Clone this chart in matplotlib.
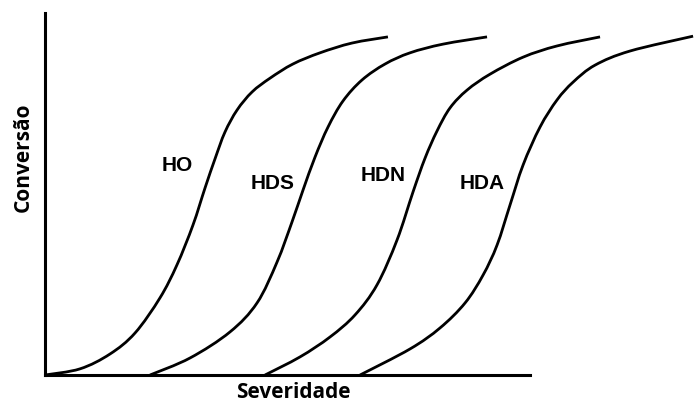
import matplotlib
matplotlib.use("Agg")
import matplotlib.pyplot as plt
from matplotlib.path import Path
from matplotlib.patches import PathPatch

# curves (severity in arbitrary units, conversion 0..1)
ho_x = [0.00, 0.722, 1.340, 1.856, 2.37, 2.72, 3.05, 3.30, 3.51, 3.71, 3.96, 4.27, 4.64, 5.11, 5.67, 6.33, 7.07]
ho_y = [0.000, 0.017, 0.058, 0.116, 0.213, 0.304, 0.414, 0.517, 0.599, 0.671, 0.732, 0.782, 0.820, 0.859, 0.890, 0.917, 0.934]

hds_x = [2.165, 2.990, 3.814, 4.371, 4.784, 5.093, 5.320, 5.567, 5.835, 6.144, 6.536, 7.010, 7.526, 8.206, 9.113]
hds_y = [0.000, 0.047, 0.119, 0.199, 0.312, 0.423, 0.511, 0.602, 0.685, 0.757, 0.815, 0.859, 0.890, 0.914, 0.934]

hdn_x = [4.536, 5.258, 5.876, 6.392, 6.845, 7.258, 7.588, 7.835, 8.082, 8.351, 8.701, 9.175, 9.856, 10.557, 11.443]
hdn_y = [0.000, 0.050, 0.105, 0.166, 0.249, 0.373, 0.506, 0.599, 0.674, 0.738, 0.787, 0.831, 0.878, 0.909, 0.934]

hda_x = [6.495, 7.526, 8.144, 8.660, 9.031, 9.320, 9.588, 9.856, 10.206, 10.557, 10.887, 11.340, 12.062, 13.361]
hda_y = [0.000, 0.072, 0.130, 0.199, 0.276, 0.359, 0.470, 0.580, 0.685, 0.760, 0.809, 0.856, 0.895, 0.936]

labels = ["HO", "HDS", "HDN", "HDA"]
label_x = [2.72, 4.70, 6.97, 9.01]
label_y = [0.58, 0.53, 0.55, 0.53]


def smooth_path(xs, ys):
    # Catmull-Rom through the read points, drawn as cubic bezier segments
    pts = list(zip(xs, ys))
    verts = [pts[0]]
    codes = [Path.MOVETO]
    n = len(pts)
    for i in range(n - 1):
        p0 = pts[i - 1] if i > 0 else pts[i]
        p1 = pts[i]
        p2 = pts[i + 1]
        p3 = pts[i + 2] if i + 2 < n else pts[i + 1]
        c1 = (p1[0] + (p2[0] - p0[0]) / 6, p1[1] + (p2[1] - p0[1]) / 6)
        c2 = (p2[0] - (p3[0] - p1[0]) / 6, p2[1] - (p3[1] - p1[1]) / 6)
        verts += [c1, c2, p2]
        codes += [Path.CURVE4] * 3
    return Path(verts, codes)


fig = plt.figure(figsize=(6.94, 4.03), dpi=100)
ax = fig.add_axes([45 / 694, 28 / 403, 649 / 694, 362 / 403])

for xs, ys in [(ho_x, ho_y), (hds_x, hds_y), (hdn_x, hdn_y), (hda_x, hda_y)]:
    ax.add_patch(PathPatch(smooth_path(xs, ys), facecolor="none",
                           edgecolor="black", lw=2.0, clip_on=False))

for lab, lx, ly in zip(labels, label_x, label_y):
    ax.text(lx, ly, lab, ha="center", va="center", fontsize=15,
            fontweight="bold", family="Liberation Sans")

ax.set_xlim(0, 13.38)
ax.set_ylim(0, 1)
ax.spines["top"].set_visible(False)
ax.spines["right"].set_visible(False)
ax.spines["bottom"].set_bounds(0, 10)
for s in ("left", "bottom"):
    ax.spines[s].set_linewidth(2.2)
ax.set_xticks([])
ax.set_yticks([])

fig.text(293 / 694, 1 - 392 / 403, "Severidade", ha="center", va="center",
         fontsize=15, fontweight="bold", family="Open Sans")
fig.text(23 / 694, 1 - 157 / 403, "Conversão", ha="center", va="center",
         rotation=90, fontsize=15, fontweight="bold", family="Open Sans")

fig.savefig("out.png", dpi=100)
